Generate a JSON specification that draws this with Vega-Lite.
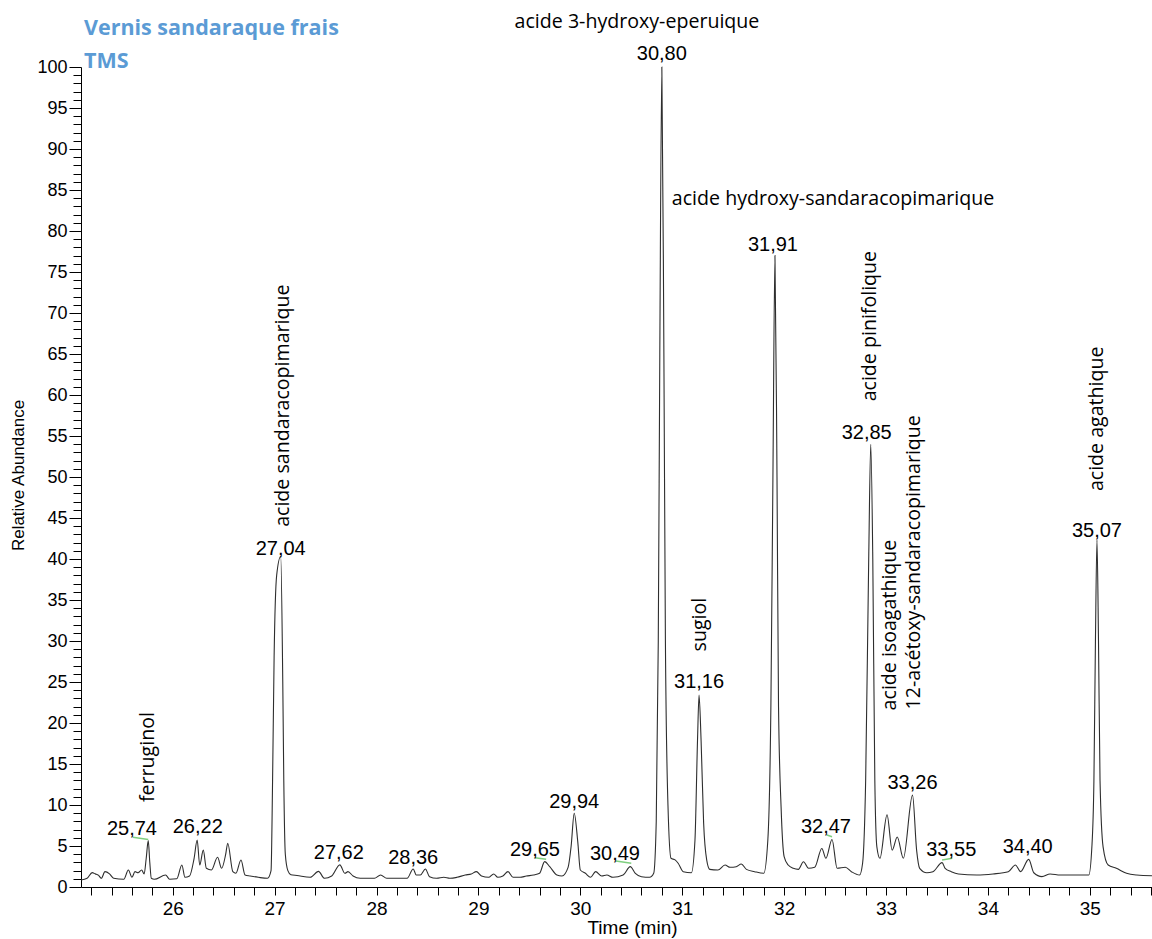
{
"$schema": "https://vega.github.io/schema/vega-lite/v6.json",
"width": 1071, "height": 820,
"autosize": {"type": "none"},
"padding": {"left": 81, "top": 67, "right": 0, "bottom": 52},
"background": "white",
"config": {"view": {"stroke": null}},
"datasets": {
"trace": [
{"t":25.10,"v":0.85},{"t":25.16,"v":1.06},{"t":25.21,"v":1.75},{"t":25.24,"v":1.6},{"t":25.27,"v":1.45},{"t":25.30,"v":1.06},{"t":25.335,"v":1.87},{"t":25.38,"v":1.6},{"t":25.42,"v":1.06},{"t":25.52,"v":0.94},{"t":25.565,"v":2.07},{"t":25.60,"v":1.18},{"t":25.63,"v":1.87},{"t":25.66,"v":1.74},{"t":25.695,"v":2.07},{"t":25.72,"v":1.6},{"t":25.74,"v":3.5},{"t":25.76,"v":5.65},{"t":25.775,"v":3.0},{"t":25.79,"v":1.06},{"t":25.82,"v":0.94},{"t":25.93,"v":1.46},{"t":25.97,"v":0.94},{"t":26.04,"v":1.0},{"t":26.09,"v":2.68},{"t":26.12,"v":1.18},{"t":26.165,"v":1.34},{"t":26.21,"v":3.5},{"t":26.24,"v":5.73},{"t":26.265,"v":2.68},{"t":26.30,"v":4.5},{"t":26.33,"v":2.28},{"t":26.38,"v":2.07},{"t":26.44,"v":3.62},{"t":26.48,"v":2.28},{"t":26.52,"v":4.0},{"t":26.54,"v":5.33},{"t":26.59,"v":1.87},{"t":26.62,"v":1.67},{"t":26.67,"v":3.29},{"t":26.71,"v":1.46},{"t":26.76,"v":1.34},{"t":26.84,"v":1.18},{"t":26.93,"v":1.06},{"t":26.965,"v":2.0},{"t":26.98,"v":13},{"t":26.995,"v":28},{"t":27.02,"v":38},{"t":27.06,"v":40.3},{"t":27.08,"v":25},{"t":27.09,"v":13},{"t":27.105,"v":4},{"t":27.13,"v":2.0},{"t":27.16,"v":1.5},{"t":27.22,"v":1.4},{"t":27.35,"v":1.18},{"t":27.43,"v":1.9},{"t":27.49,"v":1.06},{"t":27.56,"v":1.34},{"t":27.64,"v":2.7},{"t":27.69,"v":1.67},{"t":27.72,"v":1.87},{"t":27.77,"v":1.34},{"t":27.84,"v":1.06},{"t":27.98,"v":1.06},{"t":28.04,"v":1.46},{"t":28.10,"v":1.06},{"t":28.30,"v":1.06},{"t":28.36,"v":2.2},{"t":28.39,"v":1.46},{"t":28.43,"v":1.46},{"t":28.48,"v":2.2},{"t":28.52,"v":1.26},{"t":28.59,"v":1.06},{"t":28.66,"v":1.18},{"t":28.72,"v":1.06},{"t":28.79,"v":1.18},{"t":28.87,"v":1.46},{"t":28.93,"v":1.59},{"t":28.98,"v":1.87},{"t":29.03,"v":1.34},{"t":29.10,"v":1.18},{"t":29.15,"v":1.59},{"t":29.19,"v":1.18},{"t":29.24,"v":1.34},{"t":29.29,"v":1.87},{"t":29.34,"v":1.18},{"t":29.41,"v":1.18},{"t":29.47,"v":1.34},{"t":29.54,"v":1.46},{"t":29.60,"v":1.67},{"t":29.65,"v":3.1},{"t":29.70,"v":2.48},{"t":29.77,"v":1.46},{"t":29.82,"v":1.34},{"t":29.88,"v":2.4},{"t":29.91,"v":5.0},{"t":29.94,"v":9.0},{"t":29.975,"v":5.5},{"t":30.00,"v":2.07},{"t":30.05,"v":1.67},{"t":30.10,"v":1.18},{"t":30.15,"v":1.87},{"t":30.21,"v":1.34},{"t":30.26,"v":1.46},{"t":30.32,"v":1.18},{"t":30.42,"v":1.46},{"t":30.49,"v":2.48},{"t":30.54,"v":1.67},{"t":30.60,"v":1.26},{"t":30.68,"v":1.18},{"t":30.72,"v":1.67},{"t":30.745,"v":8},{"t":30.765,"v":30},{"t":30.78,"v":65},{"t":30.80,"v":100},{"t":30.82,"v":65},{"t":30.835,"v":30},{"t":30.86,"v":10},{"t":30.89,"v":3.5},{"t":30.93,"v":3.3},{"t":30.96,"v":2.9},{"t":31.01,"v":1.87},{"t":31.09,"v":1.74},{"t":31.125,"v":5.7},{"t":31.15,"v":17.9},{"t":31.165,"v":23.4},{"t":31.185,"v":17.9},{"t":31.21,"v":7.8},{"t":31.24,"v":3.3},{"t":31.27,"v":2.15},{"t":31.35,"v":2.07},{"t":31.42,"v":2.68},{"t":31.47,"v":2.4},{"t":31.53,"v":2.48},{"t":31.58,"v":2.8},{"t":31.63,"v":2.15},{"t":31.71,"v":1.87},{"t":31.80,"v":1.67},{"t":31.84,"v":5.7},{"t":31.87,"v":22},{"t":31.89,"v":50},{"t":31.91,"v":77},{"t":31.93,"v":50},{"t":31.945,"v":22},{"t":31.97,"v":9.8},{"t":32.00,"v":3.7},{"t":32.04,"v":2.68},{"t":32.09,"v":2.28},{"t":32.14,"v":2.15},{"t":32.19,"v":3.08},{"t":32.24,"v":2.28},{"t":32.30,"v":2.4},{"t":32.37,"v":4.7},{"t":32.41,"v":3.5},{"t":32.47,"v":5.8},{"t":32.52,"v":2.28},{"t":32.60,"v":2.4},{"t":32.66,"v":1.87},{"t":32.74,"v":1.46},{"t":32.77,"v":2.9},{"t":32.80,"v":13},{"t":32.83,"v":40},{"t":32.85,"v":54},{"t":32.87,"v":40},{"t":32.89,"v":13},{"t":32.91,"v":4.9},{"t":32.94,"v":3.5},{"t":33.01,"v":8.8},{"t":33.06,"v":4.5},{"t":33.11,"v":6.1},{"t":33.17,"v":3.5},{"t":33.26,"v":11.2},{"t":33.30,"v":4.5},{"t":33.33,"v":2.28},{"t":33.40,"v":1.74},{"t":33.46,"v":1.87},{"t":33.55,"v":2.97},{"t":33.58,"v":2.28},{"t":33.64,"v":1.87},{"t":33.71,"v":1.59},{"t":33.89,"v":1.46},{"t":34.05,"v":1.59},{"t":34.20,"v":1.87},{"t":34.27,"v":2.68},{"t":34.32,"v":1.87},{"t":34.40,"v":3.37},{"t":34.45,"v":1.74},{"t":34.53,"v":1.26},{"t":34.61,"v":1.59},{"t":34.71,"v":1.46},{"t":34.99,"v":1.46},{"t":35.02,"v":4.9},{"t":35.04,"v":13},{"t":35.055,"v":30},{"t":35.07,"v":42.3},{"t":35.085,"v":30},{"t":35.10,"v":13},{"t":35.13,"v":4.9},{"t":35.18,"v":2.68},{"t":35.26,"v":2.28},{"t":35.36,"v":1.67},{"t":35.46,"v":1.46},{"t":35.61,"v":1.37}
],
"leaders": [
{"t":25.61,"v":6.06,"t2":25.76,"v2":5.8},
{"t":29.555,"v":3.57,"t2":29.665,"v2":3.38},
{"t":30.35,"v":3.17,"t2":30.50,"v2":2.89},
{"t":32.42,"v":6.34,"t2":32.47,"v2":6.13},
{"t":33.55,"v":3.3,"t2":33.65,"v2":3.5}
],
"peaks": [
{"t":25.60,"v":7.04,"label":"25,74"},
{"t":26.246,"v":7.35,"label":"26,22"},
{"t":27.06,"v":41.2,"label":"27,04"},
{"t":27.63,"v":4.1,"label":"27,62"},
{"t":28.36,"v":3.57,"label":"28,36"},
{"t":29.555,"v":4.5,"label":"29,65"},
{"t":29.94,"v":10.4,"label":"29,94"},
{"t":30.34,"v":4.0,"label":"30,49"},
{"t":30.80,"v":101.6,"label":"30,80"},
{"t":31.165,"v":25.0,"label":"31,16"},
{"t":31.89,"v":78.3,"label":"31,91"},
{"t":32.41,"v":7.35,"label":"32,47"},
{"t":32.81,"v":55.4,"label":"32,85"},
{"t":33.26,"v":12.7,"label":"33,26"},
{"t":33.64,"v":4.5,"label":"33,55"},
{"t":34.39,"v":4.9,"label":"34,40"},
{"t":35.07,"v":43.4,"label":"35,07"}
],
"heading": [
{"t":25.129,"v":103.9,"name":"Vernis sandaraque frais"},
{"t":25.129,"v":99.9,"name":"TMS"}
],
"hnames": [
{"t":30.556,"v":105.5,"name":"acide 3-hydroxy-eperuique"},
{"t":32.48,"v":83.9,"name":"acide hydroxy-sandaracopimarique"}
],
"vnames": [
{"t":25.757,"v":15.85,"name":"ferruginol"},
{"t":27.08,"v":58.7,"name":"acide sandaracopimarique"},
{"t":31.175,"v":32.0,"name":"sugiol"},
{"t":32.84,"v":68.4,"name":"acide pinifolique"},
{"t":33.04,"v":31.95,"name":"acide isoagathique"},
{"t":33.27,"v":39.6,"name":"12-acétoxy-sandaracopimarique"},
{"t":35.07,"v":57.1,"name":"acide agathique"}
]
},
"encoding": {
"x": {"field": "t", "type": "quantitative",
 "scale": {"domain": [25.1, 35.61], "nice": false, "zero": false},
 "axis": {"values": [25.2,25.4,25.6,25.8,26,26.2,26.4,26.6,26.8,27,27.2,27.4,27.6,27.8,28,28.2,28.4,28.6,28.8,29,29.2,29.4,29.6,29.8,30,30.2,30.4,30.6,30.8,31,31.2,31.4,31.6,31.8,32,32.2,32.4,32.6,32.8,33,33.2,33.4,33.6,33.8,34,34.2,34.4,34.6,34.8,35,35.2,35.4,35.6],
  "labelExpr": "abs(datum.value - round(datum.value)) < 0.01 ? format(datum.value, 'd') : ''",
  "tickSize": 8, "tickColor": "black", "domainColor": "black", "grid": false,
  "labelFont": "Liberation Sans", "labelFontSize": 19, "labelColor": "black", "labelPadding": 4, "labelOverlap": false,
  "title": "Time (min)", "titleFont": "Liberation Sans", "titleFontSize": 19, "titleFontWeight": "normal", "titleColor": "black",
  "titleX": 551, "titleY": 46, "titleAlign": "center", "titleBaseline": "alphabetic"}},
"y": {"field": "v", "type": "quantitative",
 "scale": {"domain": [0, 100], "nice": false},
 "axis": {"values": [0,1,2,3,4,5,6,7,8,9,10,11,12,13,14,15,16,17,18,19,20,21,22,23,24,25,26,27,28,29,30,31,32,33,34,35,36,37,38,39,40,41,42,43,44,45,46,47,48,49,50,51,52,53,54,55,56,57,58,59,60,61,62,63,64,65,66,67,68,69,70,71,72,73,74,75,76,77,78,79,80,81,82,83,84,85,86,87,88,89,90,91,92,93,94,95,96,97,98,99,100],
  "labelExpr": "datum.value % 5 === 0 ? datum.label : ''",
  "tickSize": {"condition": {"test": "datum.value % 5 === 0", "value": 12}, "value": 8},
  "tickColor": "black", "domainColor": "black", "grid": false,
  "labelFont": "Liberation Sans", "labelFontSize": 18, "labelColor": "black", "labelPadding": 2, "labelOverlap": false,
  "title": "Relative Abundance", "titleFont": "Liberation Sans", "titleFontSize": 17, "titleFontWeight": "normal", "titleColor": "black",
  "titleX": -63, "titleY": 408, "titleAlign": "center", "titleBaseline": "middle", "titleAngle": 270}}
},
"layer": [
{"data": {"name": "trace"}, "mark": {"type": "line", "color": "#2e2e2e", "strokeWidth": 1.1, "interpolate": "monotone"}},
{"data": {"name": "leaders"}, "mark": {"type": "rule", "color": "#7fcf7f", "strokeWidth": 1.5}, "encoding": {"x2": {"field": "t2"}, "y2": {"field": "v2"}}},
{"data": {"name": "peaks"}, "mark": {"type": "text", "font": "Liberation Sans", "fontSize": 20, "align": "center", "baseline": "middle", "color": "black"}, "encoding": {"text": {"field": "label"}}},
{"data": {"name": "heading"}, "mark": {"type": "text", "font": "Open Sans", "fontSize": 21.5, "fontWeight": "bold", "align": "left", "baseline": "alphabetic", "color": "#5b9bd5"}, "encoding": {"text": {"field": "name"}}},
{"data": {"name": "hnames"}, "mark": {"type": "text", "font": "Open Sans", "fontSize": 19.6, "align": "center", "baseline": "middle", "color": "black"}, "encoding": {"text": {"field": "name"}}},
{"data": {"name": "vnames"}, "mark": {"type": "text", "font": "Open Sans", "fontSize": 19.6, "align": "center", "baseline": "middle", "angle": 270, "color": "black"}, "encoding": {"text": {"field": "name"}}}
]
}
